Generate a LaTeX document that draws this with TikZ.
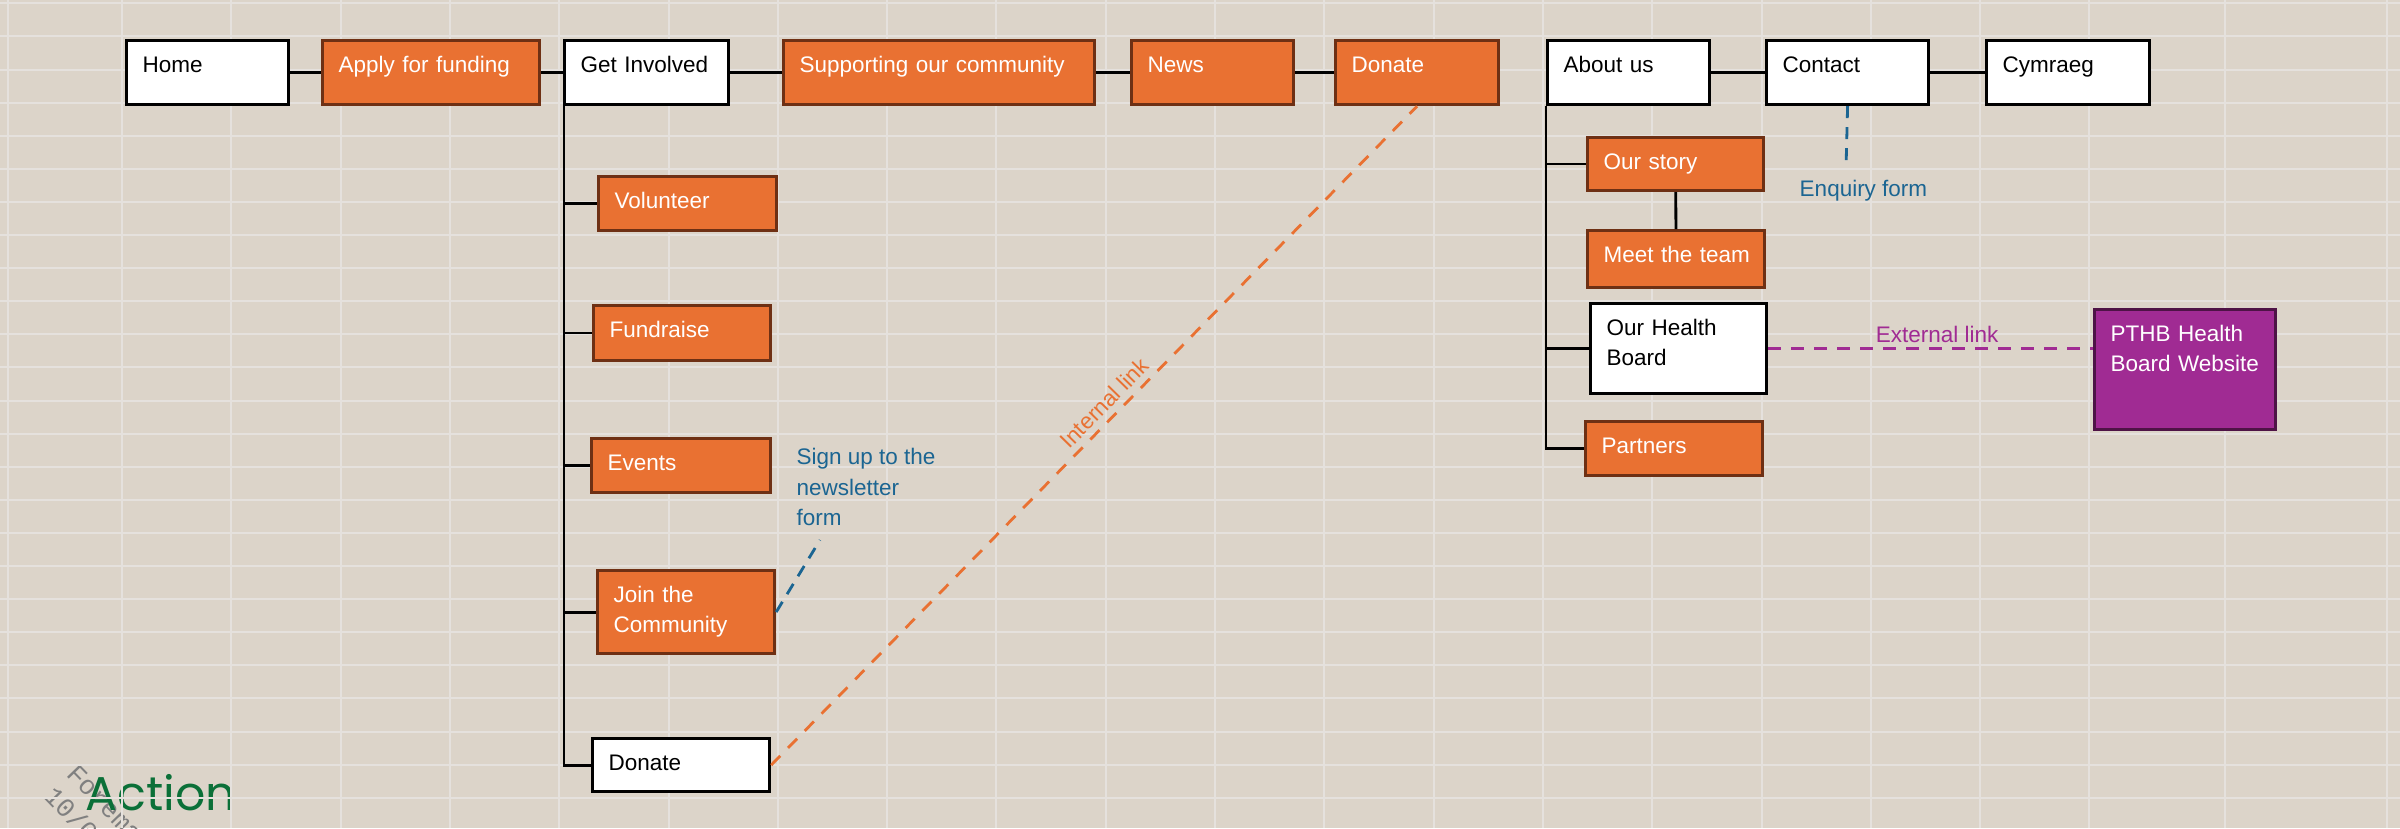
\documentclass[tikz,border=0pt]{standalone}
\usepackage{xcolor}
\usepackage{fontspec}
\setmainfont{Liberation Sans}
\newfontfamily\actionfont{Poppins}
\newfontfamily\stampfont{Liberation Mono}
\usepackage{tikz}
\usetikzlibrary{calc}
\usetikzlibrary{positioning}
\definecolor{bgbeige}{HTML}{DCD4C9}
\definecolor{gridgrey}{HTML}{E5E1DD}
\definecolor{pgorange}{HTML}{E97132}
\definecolor{pgbrown}{HTML}{6E3014}
\definecolor{pgpurple}{HTML}{A02B93}
\definecolor{pgplum}{HTML}{4E1346}
\definecolor{pgblue}{HTML}{1B6592}
\definecolor{pggreen}{HTML}{0B7038}
\tikzstyle{pagebox} = [draw, line width=.9pt, anchor=north west, inner xsep=.16cm, inner ysep=0, text height=.315cm, align=left, font=\fontsize{6.4}{8.7}\selectfont]
\tikzstyle{whitepage} = [pagebox, fill=white, draw=black]
\tikzstyle{orangepage} = [pagebox, fill=pgorange, draw=pgbrown, text=white]
\tikzstyle{purplepage} = [pagebox, fill=pgpurple, draw=pgplum, text=white]
\tikzstyle{conn} = [-, line width=.8pt, draw=black]
\tikzstyle{linklabel} = [inner sep=0, align=left, font=\fontsize{6.4}{8.7}\selectfont]
\tikzstyle{intlink} = [-, line width=.8pt, draw=pgorange, dash pattern=on .13cm off .11cm]
\tikzstyle{formlink} = [-, line width=.8pt, draw=pgblue, dash pattern=on .12cm off .09cm]
\tikzstyle{extlink} = [-, line width=.9pt, draw=pgpurple, dash pattern=on .13cm off .1cm]
\tikzstyle{gridline} = [line width=.02cm, draw=gridgrey]

\begin{document}
\begin{tikzpicture}
\useasboundingbox (0,0) rectangle (24,-8.28);
\fill [bgbeige] (0,0) rectangle (24,-8.28);
% logo and stamp sit under the grid
\node [font=\stampfont\fontsize{7.6}{9}\selectfont, text=gray, rotate=-46, anchor=north west, align=left, inner sep=0] (stamp) at (0.78,-7.62) {Forema\\10/09};
\node [font=\actionfont\fontsize{13.5}{14}\selectfont, text=pggreen, anchor=base west, inner sep=0] (action) at (0.85,-8.10) {Action};
% sheet grid
\foreach \k in {0,...,18}
  \draw [gridline] ({1.22+1.093*\k},0) -- ++(0,-8.28);
\foreach \gx in {0.08,22.25,23.87}
  \draw [gridline] (\gx,0) -- ++(0,-8.28);
\foreach \k in {0,...,24}
  \draw [gridline] (0,{-0.033-0.331*\k}) -- ++(24,0);

% top menu
\node [whitepage, text width=1.30cm, text depth=.325cm] (home) at (1.25,-.39) {Home};
\node [orangepage, text width=1.85cm, text depth=.325cm] (apply) at (3.21,-.39) {Apply for funding};
\node [whitepage, text width=1.32cm, text depth=.325cm] (getinv) at (5.63,-.39) {Get Involved};
\node [orangepage, text width=2.79cm, text depth=.325cm] (support) at (7.82,-.39) {Supporting our community};
\node [orangepage, text width=1.30cm, text depth=.325cm] (news) at (11.30,-.39) {News};
\node [orangepage, text width=1.31cm, text depth=.325cm] (donate) at (13.34,-.39) {Donate};
\node [whitepage, text width=1.30cm, text depth=.325cm] (about) at (15.46,-.39) {About us};
\node [whitepage, text width=1.30cm, text depth=.325cm] (contact) at (17.65,-.39) {Contact};
\node [whitepage, text width=1.31cm, text depth=.325cm] (cymraeg) at (19.85,-.39) {Cymraeg};
\draw [conn] (home) -- (apply);
\draw [conn] (apply) -- (getinv);
\draw [conn] (getinv) -- (support);
\draw [conn] (support) -- (news);
\draw [conn] (news) -- (donate);
\draw [conn] (about) -- (contact);
\draw [conn] (contact) -- (cymraeg);

% get involved
\node [orangepage, text width=1.46cm, text depth=.225cm] (volunteer) at (5.97,-1.75) {Volunteer};
\node [orangepage, text width=1.45cm, text depth=.235cm] (fundraise) at (5.92,-3.04) {Fundraise};
\node [orangepage, text width=1.47cm, text depth=.225cm] (events) at (5.90,-4.37) {Events};
\node [orangepage, text width=1.45cm, text depth=.515cm] (joincomm) at (5.96,-5.69) {Join the\\Community};
\node [whitepage, text width=1.45cm, text depth=.215cm] (donatesub) at (5.91,-7.37) {Donate};
\foreach \c in {volunteer,fundraise,events,joincomm,donatesub}
  \draw [conn] ([xshift=.01cm]getinv.south west) |- (\c.west);

% about us
\node [orangepage, text width=1.44cm, text depth=.215cm] (ourstory) at (15.86,-1.36) {Our story};
\node [orangepage, text width=1.45cm, text depth=.255cm] (meetteam) at (15.86,-2.29) {\mbox{Meet the team}};
\node [whitepage, text width=1.44cm, text depth=.585cm] (ourhealth) at (15.89,-3.02) {Our Health\\Board};
\node [orangepage, text width=1.45cm, text depth=.225cm] (partners) at (15.84,-4.20) {Partners};
\node [purplepage, text width=1.49cm, text depth=.885cm] (pthb) at (20.93,-3.08) {PTHB Health\\Board Website};
\foreach \c in {ourstory,ourhealth,partners}
  \draw [conn] (about.south west) |- (\c.west);
\draw [conn] (ourstory) -- (meetteam);

% links
\draw [intlink] (donatesub.east) -- node [linklabel, text=pgorange, sloped, anchor=south, inner sep=.06cm, pos=.533] (intlabel) {Internal link} (donate.south);
\node [linklabel, text=pgblue, anchor=north west] (signup) at (7.96,-4.475) {Sign up to the\\newsletter\\form};
\coordinate (signend) at (8.20,-5.40);
\draw [formlink] (joincomm.east) -- (signend);
\node [linklabel, text=pgblue, anchor=north west] (enquiry) at (17.99,-1.79) {Enquiry form};
\coordinate (enqend) at (18.46,-1.68);
\draw [formlink] (contact.south) -- (enqend);
\draw [extlink] (ourhealth.east) -- node [linklabel, text=pgpurple, anchor=base, yshift=.06cm, pos=.52] (extlabel) {External link} (ourhealth.east -| pthb.west);
\end{tikzpicture}
\end{document}
